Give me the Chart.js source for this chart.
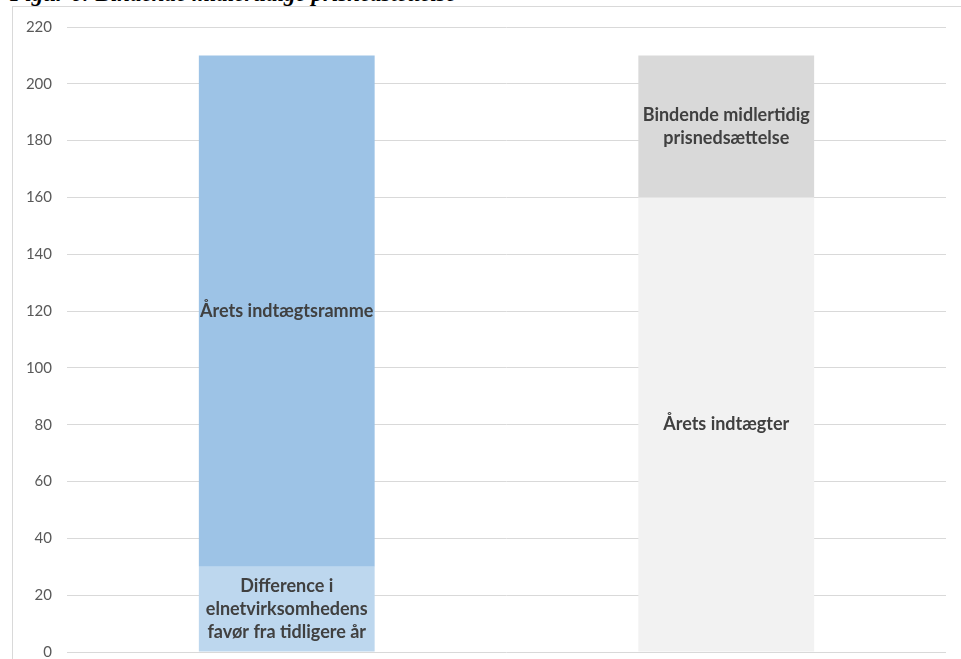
<!DOCTYPE html>
<html>
<head>
<meta charset="utf-8">
<script src="https://cdn.jsdelivr.net/npm/chart.js@4"></script>
<style>
  html, body { margin: 0; padding: 0; background: #fff; width: 961px; height: 659px; overflow: hidden; }
  #title { position: absolute; left: 10px; top: -19px; font-family: "Liberation Serif", "DejaVu Serif", serif; font-weight: bold; font-style: italic; font-size: 23px; line-height: 26px; color: #000; white-space: nowrap; }
  #frame { position: absolute; left: 12px; top: 6px; width: 960px; height: 700px; border: 1px solid #d9d9d9; box-sizing: border-box; }
  #wrap { position: absolute; left: 0; top: 0; width: 961px; height: 659px; }
  #c { display: block; width: 961px; height: 659px; }
</style>
</head>
<body>
<div id="title">Figur 6: Bindende midlertidige prisnedsættelse</div>
<div id="frame"></div>
<div id="wrap"><canvas id="c" width="961" height="659"></canvas></div>
<script>
const categories = ["Indtægtsramme", "Indtægter"];
const seriesNames = [
  ["Difference i", "elnetvirksomhedens", "favør fra tidligere år"],
  ["Årets indtægtsramme"],
  ["Årets indtægter"],
  ["Bindende midlertidig", "prisnedsættelse"]
];
const differenceValues = [30, null];
const rammeValues = [180, null];
const indtaegterValues = [null, 160];
const prisnedsaettelseValues = [null, 50];
const yTicks = [0, 20, 40, 60, 80, 100, 120, 140, 160, 180, 200, 220];

const colors = ["#BDD7EE", "#9DC3E6", "#F2F2F2", "#D9D9D9"];

const barLabelPlugin = {
  id: 'barLabels',
  afterDatasetsDraw(chart) {
    const ctx = chart.ctx;
    ctx.save();
    ctx.font = 'bold 18px Lato, "Open Sans", sans-serif';
    ctx.fillStyle = '#404040';
    ctx.textAlign = 'center';
    ctx.textBaseline = 'middle';
    chart.data.datasets.forEach((ds, di) => {
      const meta = chart.getDatasetMeta(di);
      meta.data.forEach((bar, i) => {
        if (ds.data[i] == null) return;
        const cy = (bar.y + bar.base) / 2;
        const lines = ds.labelLines;
        const lh = 23;
        const start = cy - (lines.length - 1) * lh / 2;
        lines.forEach((t, k) => ctx.fillText(t, bar.x, start + k * lh));
      });
    });
    ctx.restore();
  }
};

new Chart(document.getElementById('c'), {
  type: 'bar',
  data: {
    labels: categories,
    datasets: [
      { label: seriesNames[0].join(' '), labelLines: seriesNames[0], data: differenceValues, backgroundColor: colors[0] },
      { label: seriesNames[1].join(' '), labelLines: seriesNames[1], data: rammeValues, backgroundColor: colors[1] },
      { label: seriesNames[2].join(' '), labelLines: seriesNames[2], data: indtaegterValues, backgroundColor: colors[2] },
      { label: seriesNames[3].join(' '), labelLines: seriesNames[3], data: prisnedsaettelseValues, backgroundColor: colors[3] }
    ]
  },
  options: {
    responsive: false,
    animation: false,
    devicePixelRatio: 1,
    categoryPercentage: 1,
    barPercentage: 0.4,
    layout: { padding: { top: 27, bottom: 7, right: 15, left: 0 } },
    plugins: { legend: { display: false }, tooltip: { enabled: false }, title: { display: false } },
    scales: {
      x: { stacked: true, display: false },
      y: {
        stacked: true,
        min: 0, max: 220,
        afterBuildTicks(scale) { scale.ticks = yTicks.map(v => ({ value: v })); },
        afterFit(scale) { scale.width = 67; scale.paddingTop = 0; scale.paddingBottom = 0; },
        border: { display: false },
        grid: { color: '#d9d9d9', lineWidth: 1, drawTicks: false },
        ticks: { padding: 15, color: '#595959', font: { family: 'Lato, "Open Sans", sans-serif', size: 15 } }
      }
    }
  },
  plugins: [barLabelPlugin]
});
</script>
</body>
</html>
